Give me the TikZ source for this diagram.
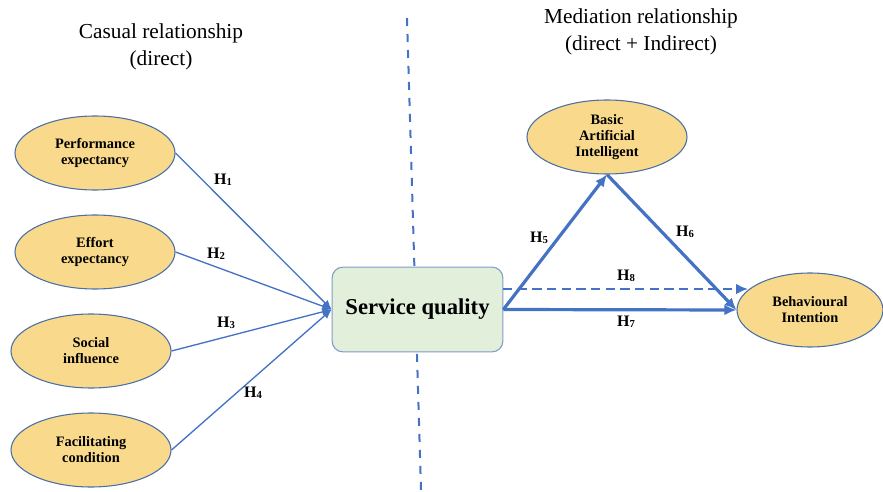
\documentclass[tikz,border=0pt]{standalone}
\usepackage{fontspec}
\setmainfont{Liberation Serif}
\usetikzlibrary{arrows.meta,shapes.geometric}
\definecolor{lineblue}{HTML}{4472C4}
\definecolor{ellfill}{HTML}{F9DA8C}
\definecolor{ellborder}{HTML}{4A6FA5}
\definecolor{boxfill}{HTML}{E2EFDA}
\definecolor{boxborder}{HTML}{7F9CC8}
\tikzset{
  construct/.style={ellipse, draw=ellborder, fill=ellfill, line width=0.8pt, inner sep=0pt,
    minimum width=120pt, minimum height=55.5pt, align=center,
    font=\fontsize{10.8}{12}\selectfont\bfseries},
  sqbox/.style={rectangle, rounded corners=8pt, draw=boxborder, fill=boxfill, line width=0.8pt,
    minimum width=128pt, minimum height=63.5pt, inner sep=0pt, font=\fontsize{17}{20}\selectfont\bfseries},
  thinarrow/.style={draw=lineblue, line width=1pt, -{Latex[length=7pt,width=6pt]}},
  thickarrow/.style={draw=lineblue, line width=2.4pt, -{Latex[length=9pt,width=8pt]}},
  dasharrow/.style={draw=lineblue, line width=1.6pt, dash pattern=on 7pt off 4pt, -{Latex[length=9pt,width=8pt]}},
  divider/.style={draw=lineblue, line width=1.5pt, dash pattern=on 6pt off 6pt},
  hlabel/.style={font=\fontsize{12}{13}\selectfont\bfseries, inner sep=1pt},
  title/.style={align=center, font=\fontsize{16}{20.5}\selectfont}
}
\newcommand{\hyp}[1]{H\raisebox{-0.15ex}{\fontsize{8}{9}\selectfont #1}}
\begin{document}
\begin{tikzpicture}[x=0.75pt,y=-0.75pt]
\useasboundingbox (0,0) rectangle (883,492);
% divider
\coordinate (vt) at (407,18);
\coordinate (vb) at (421,490);
\draw[divider] (vt) -- (vb);
% titles
\node[title] (t1) at (161,47) {Casual relationship\\(direct)};
\node[title] (t2) at (641,32) {Mediation relationship\\(direct + Indirect)};
% nodes
\node[construct] (pe) at (95,153) {Performance\\expectancy};
\node[construct] (ee) at (95,252) {Effort\\expectancy};
\node[construct] (si) at (91,351) {Social\\influence};
\node[construct] (fc) at (91,450) {Facilitating\\condition};
\node[construct] (bai) at (607,137) {Basic\\Artificial\\Intelligent};
\node[construct, minimum width=109.5pt] (bi) at (810,310) {Behavioural\\Intention};
\node[sqbox] (sq) at (417.5,309.5) {Service quality};
% left arrows
\draw[thinarrow] (pe.east) -- (sq.west);
\draw[thinarrow] (ee.east) -- (sq.west);
\draw[thinarrow] (si.east) -- (sq.west);
\draw[thinarrow] (fc.east) -- (sq.west);
\node[hlabel] (h1) at (223,180) {\hyp{1}};
\node[hlabel] (h2) at (216,254) {\hyp{2}};
\node[hlabel] (h3) at (226,323) {\hyp{3}};
\node[hlabel] (h4) at (253,393) {\hyp{4}};
% right arrows
\coordinate (h8s) at (503,289);
\coordinate (h8e) at (748,289);
\draw[dasharrow] (h8s) -- (h8e);
\draw[thickarrow] (sq.east) -- (bai.south);
\draw[thickarrow] (bai.south) -- (bi.west);
\draw[thickarrow] (sq.east) -- (bi.west);
\node[hlabel] (h5) at (539,238) {\hyp{5}};
\node[hlabel] (h6) at (685,232) {\hyp{6}};
\node[hlabel] (h8) at (626,276) {\hyp{8}};
\node[hlabel] (h7) at (626,322) {\hyp{7}};
\end{tikzpicture}
\end{document}
